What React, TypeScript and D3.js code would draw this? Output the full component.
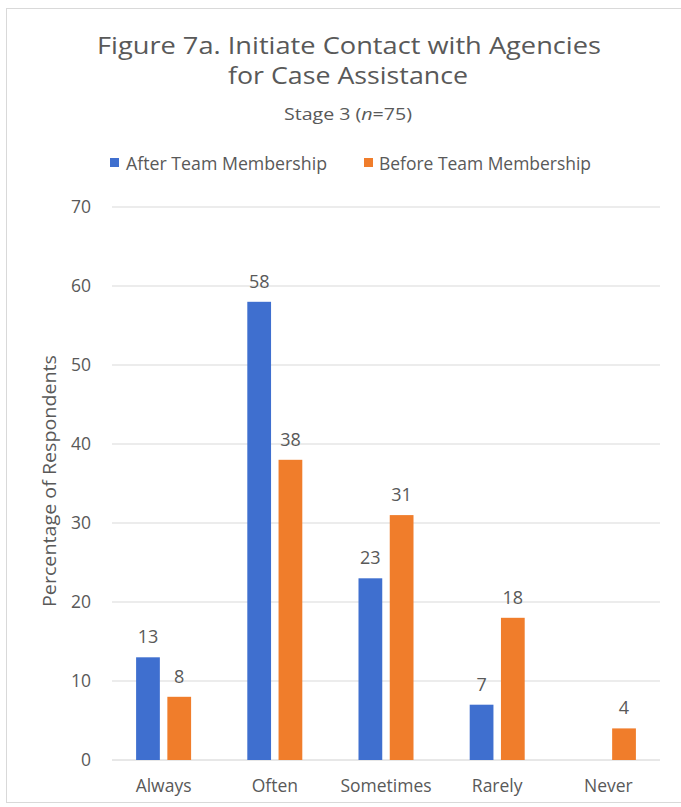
import React from "react";
import * as d3 from "d3";

// Response categories and the two series (percent of respondents)
const categories = ["Always", "Often", "Sometimes", "Rarely", "Never"];
const seriesNames = ["After Team Membership", "Before Team Membership"];
const afterValues = [13, 58, 23, 7, null];
const beforeValues = [8, 38, 31, 18, 4];
const yTicks = [0, 10, 20, 30, 40, 50, 60, 70];

const colors = ["#3f6fcf", "#f07d2b"];
const textColor = "#595959";
const font = "'Open Sans', 'Noto Sans', sans-serif";

const W = 681;
const H = 807;

export default function App() {
  const x = d3.scaleBand<string>().domain(categories).range([108, 664]);
  const inner = d3
    .scaleBand<string>()
    .domain(seriesNames)
    .range([0, 55])
    .paddingInner(0.24);
  const y = d3.scaleLinear().domain([0, 70]).range([760, 207]);

  const rows = categories.map((c, i) => ({
    category: c,
    values: [afterValues[i], beforeValues[i]],
  }));

  const groupOffset = (x.bandwidth() - 55) / 2;

  return (
    <svg
      width={W}
      height={H}
      style={{ position: "absolute", left: 0, top: 0, background: "#fff" }}
      fontFamily={font}
    >
      <rect x={0} y={0} width={W} height={H} fill="#fff" />
      <rect x={6.5} y={8.5} width={W} height={794} fill="none" stroke="#d9d9d9" />

      {/* Title */}
      <text x={349} y={54} textAnchor="middle" fontSize={24.5} fill={textColor} textLength={504} lengthAdjust="spacingAndGlyphs">
        Figure 7a. Initiate Contact with Agencies
      </text>
      <text x={348} y={84} textAnchor="middle" fontSize={24.5} fill={textColor} textLength={240} lengthAdjust="spacingAndGlyphs">
        for Case Assistance
      </text>
      <text x={348} y={120} textAnchor="middle" fontSize={16} fill={textColor} textLength={128} lengthAdjust="spacingAndGlyphs">
        Stage 3 (<tspan fontStyle="italic">n</tspan>=75)
      </text>

      {/* Legend */}
      {[
        { sx: 110, tx: 126, len: 201 },
        { sx: 364, tx: 379, len: 212 },
      ].map((l, i) => (
        <g key={seriesNames[i]}>
          <rect x={l.sx} y={158} width={9} height={9} fill={colors[i]} />
          <text x={l.tx} y={169.5} fontSize={17.5} fill={textColor} textLength={l.len} lengthAdjust="spacingAndGlyphs">
            {seriesNames[i]}
          </text>
        </g>
      ))}

      {/* Gridlines and y tick labels */}
      {yTicks.map((t) => (
        <g key={t}>
          <line x1={112} x2={660} y1={y(t)} y2={y(t)} stroke={t === 0 ? "#d0d0d0" : "#d9d9d9"} strokeWidth={1} />
          <text x={91} y={y(t)} dy="0.36em" textAnchor="end" fontSize={17.5} fill={textColor}>
            {t}
          </text>
        </g>
      ))}

      {/* Y axis title */}
      <text
        transform={`translate(49,481) rotate(-90)`}
        textAnchor="middle"
        dy="0.36em"
        fontSize={18.5}
        fill={textColor}
        textLength={252}
        lengthAdjust="spacingAndGlyphs"
      >
        Percentage of Respondents
      </text>

      {/* Bars and value labels */}
      {rows.map((r) => (
        <g key={r.category} transform={`translate(${(x(r.category) ?? 0) + groupOffset},0)`}>
          {r.values.map((v, i) =>
            v == null ? null : (
              <g key={seriesNames[i]}>
                <rect
                  x={inner(seriesNames[i])}
                  y={y(v)}
                  width={inner.bandwidth()}
                  height={y(0) - y(v)}
                  fill={colors[i]}
                />
                <text
                  x={(inner(seriesNames[i]) ?? 0) + inner.bandwidth() / 2}
                  y={y(v) - 14}
                  textAnchor="middle"
                  fontSize={18}
                  fill={textColor}
                >
                  {v}
                </text>
              </g>
            )
          )}
        </g>
      ))}

      {/* Category labels */}
      {categories.map((c) => (
        <text
          key={c}
          x={(x(c) ?? 0) + x.bandwidth() / 2}
          y={792}
          textAnchor="middle"
          fontSize={17.5}
          fill={textColor}
        >
          {c}
        </text>
      ))}
    </svg>
  );
}
